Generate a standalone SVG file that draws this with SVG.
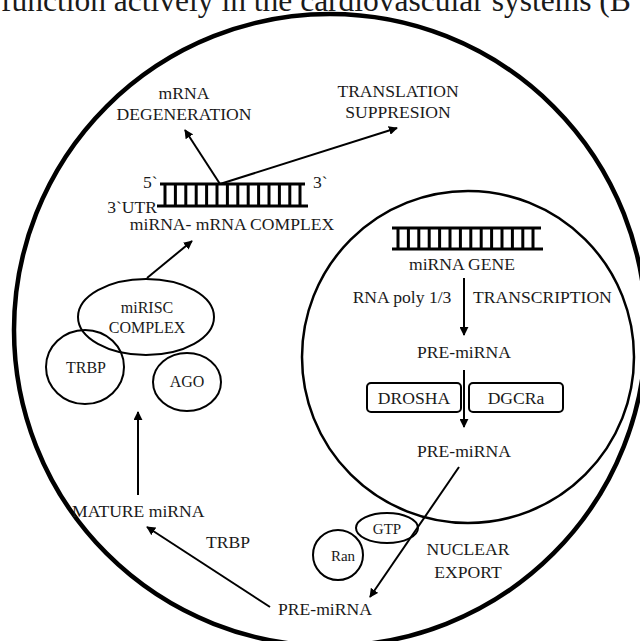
<svg xmlns="http://www.w3.org/2000/svg" width="640" height="641" viewBox="0 0 640 641">
<defs>
<marker id="ah" viewBox="0 0 10 10" refX="9" refY="5" markerWidth="9" markerHeight="9" markerUnits="userSpaceOnUse" orient="auto">
<path d="M0,0 L10,5 L0,10 Z" fill="#000"/>
</marker>
</defs>
<style>
text{font-family:"Liberation Serif","Times New Roman",serif;fill:#1a1a1a;font-size:17.6px}
.m{text-anchor:middle}
.sm{font-size:16px}
.xs{font-size:15px}
.sh{fill:none;stroke:#000;stroke-width:2}
.rail{stroke:#000;stroke-width:3;fill:none}
.rung{stroke:#000;stroke-width:3}
.con{stroke:#000;stroke-width:2;fill:none;marker-end:url(#ah)}
</style>
<rect width="640" height="641" fill="#fff"/>
<text x="1" y="11" style="font-size:31.5px">function actively in the cardiovascular systems (B</text>
<g id="cell"><circle cx="330" cy="330" r="316" fill="none" stroke="#000" stroke-width="4.5"/></g>
<g id="nucleus"><circle cx="468" cy="357" r="166" fill="none" stroke="#000" stroke-width="2.5"/></g>

<g id="complex-ladder">
<line class="rail" x1="160" y1="184" x2="305" y2="184"/>
<line class="rail" x1="157" y1="206" x2="308" y2="206"/>
<g class="rung">
<line x1="165" y1="184" x2="165" y2="206"/><line x1="175.4" y1="184" x2="175.4" y2="206"/><line x1="185.8" y1="184" x2="185.8" y2="206"/><line x1="196.2" y1="184" x2="196.2" y2="206"/><line x1="206.6" y1="184" x2="206.6" y2="206"/><line x1="217" y1="184" x2="217" y2="206"/><line x1="227.4" y1="184" x2="227.4" y2="206"/><line x1="237.8" y1="184" x2="237.8" y2="206"/><line x1="248.2" y1="184" x2="248.2" y2="206"/><line x1="258.6" y1="184" x2="258.6" y2="206"/><line x1="269" y1="184" x2="269" y2="206"/><line x1="279.4" y1="184" x2="279.4" y2="206"/><line x1="289.8" y1="184" x2="289.8" y2="206"/><line x1="300" y1="184" x2="300" y2="206"/>
</g>
<text x="143" y="188">5`</text>
<text x="313" y="188">3`</text>
<text x="157" y="213" text-anchor="end">3`UTR</text>
<text x="232" y="230" class="m">miRNA- mRNA COMPLEX</text>
</g>

<g id="mrna-degeneration"><text x="184" y="99" class="m">mRNA</text><text x="184" y="120" class="m">DEGENERATION</text></g>
<g id="translation-suppression"><text x="398" y="97" class="m">TRANSLATION</text><text x="398" y="118" class="m">SUPPRESION</text></g>

<g id="gene-ladder">
<line class="rail" x1="392" y1="228" x2="541" y2="228"/>
<line class="rail" x1="392" y1="249" x2="543" y2="249"/>
<g class="rung">
<line x1="398" y1="228" x2="398" y2="249"/><line x1="408.4" y1="228" x2="408.4" y2="249"/><line x1="418.8" y1="228" x2="418.8" y2="249"/><line x1="429.2" y1="228" x2="429.2" y2="249"/><line x1="439.6" y1="228" x2="439.6" y2="249"/><line x1="450" y1="228" x2="450" y2="249"/><line x1="460.4" y1="228" x2="460.4" y2="249"/><line x1="470.8" y1="228" x2="470.8" y2="249"/><line x1="481.2" y1="228" x2="481.2" y2="249"/><line x1="491.6" y1="228" x2="491.6" y2="249"/><line x1="502" y1="228" x2="502" y2="249"/><line x1="512.4" y1="228" x2="512.4" y2="249"/><line x1="522.8" y1="228" x2="522.8" y2="249"/><line x1="533" y1="228" x2="533" y2="249"/>
</g>
<text x="462" y="270" class="m">miRNA GENE</text>
</g>
<g id="rna-poly"><text x="402" y="303" class="m">RNA poly 1/3</text></g>
<g id="transcription"><text x="473" y="303">TRANSCRIPTION</text></g>
<g id="pre-mirna-1"><text x="464" y="358" class="m">PRE-miRNA</text></g>
<g id="drosha"><rect x="367" y="383" width="94" height="29" rx="4" class="sh" stroke-width="1.8"/><text x="414" y="404" class="m">DROSHA</text></g>
<g id="dgcra"><rect x="469" y="383" width="94" height="29" rx="4" class="sh" stroke-width="1.8"/><text x="516" y="404" class="m">DGCRa</text></g>
<g id="pre-mirna-2"><text x="464" y="457" class="m">PRE-miRNA</text></g>

<g id="mirisc"><ellipse cx="146" cy="317" rx="68" ry="38" class="sh"/><text x="147" y="313" class="m sm">miRISC</text><text x="147" y="333" class="m sm">COMPLEX</text></g>
<g id="trbp-circle"><ellipse cx="85" cy="367" rx="39" ry="37" class="sh"/><text x="86" y="373" class="m sm">TRBP</text></g>
<g id="ago"><ellipse cx="187" cy="382" rx="34" ry="29" class="sh"/><text x="187" y="387" class="m sm">AGO</text></g>

<g id="mature-mirna"><text x="72" y="517">MATURE miRNA</text></g>
<g id="trbp-label"><text x="228" y="548" class="m">TRBP</text></g>
<g id="gtp"><ellipse cx="387" cy="528" rx="31" ry="15" class="sh"/><text x="387" y="534" class="m xs">GTP</text></g>
<g id="ran"><circle cx="338" cy="555" r="25" class="sh"/><text x="343" y="561" class="m xs">Ran</text></g>
<g id="nuclear-export"><text x="468" y="555" class="m">NUCLEAR</text><text x="468" y="578" class="m">EXPORT</text></g>
<g id="pre-mirna-3"><text x="278" y="615">PRE-miRNA</text></g>

<g id="connectors">
<line class="con" x1="220" y1="184" x2="185" y2="130"/>
<line class="con" x1="220" y1="184" x2="397" y2="128"/>
<line class="con" x1="147" y1="278" x2="192" y2="241"/>
<line class="con" x1="464" y1="278" x2="464" y2="335"/>
<line class="con" x1="464" y1="370" x2="464" y2="427"/>
<line class="con" x1="459" y1="467" x2="370" y2="597"/>
<line class="con" x1="270" y1="607" x2="147" y2="527"/>
<line class="con" x1="138" y1="495" x2="138" y2="412"/>
</g>
</svg>
